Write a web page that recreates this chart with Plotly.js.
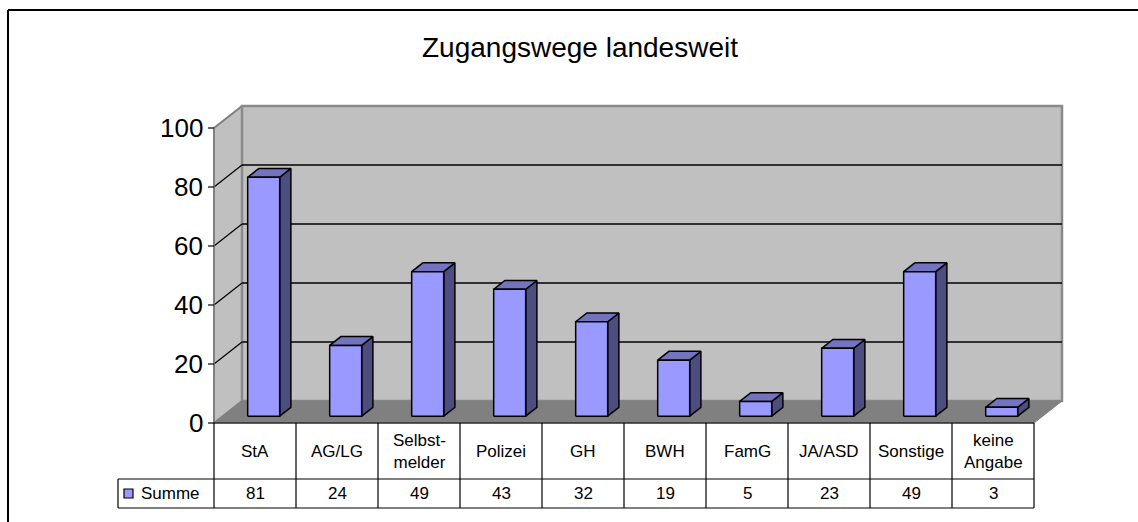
<!DOCTYPE html>
<html>
<head>
<meta charset="utf-8">
<script src="https://cdn.plot.ly/plotly-3.0.1.min.js"></script>
<style>html,body{margin:0;padding:0;background:#fff;overflow:hidden;}#chart{width:1138px;height:522px;}</style>
</head>
<body>
<div id="chart"></div>
<script>
// ---- data ----
const categories = ['StA', 'AG/LG', 'Selbst-<br>melder', 'Polizei', 'GH', 'BWH', 'FamG', 'JA/ASD', 'Sonstige', 'keine<br>Angabe'];
const values = [81, 24, 49, 43, 32, 19, 5, 23, 49, 3];
const seriesName = 'Summe';
const tickVals = [0, 20, 40, 60, 80, 100];
const titleText = 'Zugangswege landesweit';

// ---- layout geometry (pixel scale of the data space) ----
const W = 1138, H = 522;
const X0PX = 214, CATPX = 82;      // x=0 at 214px, one category = 82px
const Y0PX = 423, UNITPX = 2.95;   // y=0 at 423px, one unit = 2.95px
const DX = 28 / CATPX, DY = 22 / UNITPX;   // depth vector of the 3D box
const YMAX = 100;
const N = categories.length;
const barW = 32 / CATPX;
const f0 = 0.31, f1 = 0.71;       // bar depth (front/back fraction)
const px2x = p => p / CATPX, px2y = p => p / UNITPX;

const FONT = 'Liberation Sans, Arial, sans-serif';
const traces = [];
function poly(xs, ys, fill, lineColor, lineWidth) {
  traces.push({
    type: 'scatter', mode: 'lines', x: xs.concat([xs[0]]), y: ys.concat([ys[0]]),
    fill: fill ? 'toself' : 'none', fillcolor: fill || undefined,
    line: {color: lineColor, width: lineWidth}, hoverinfo: 'skip', showlegend: false
  });
}
function seg(xs, ys, color, width) {
  traces.push({type: 'scatter', mode: 'lines', x: xs, y: ys, line: {color: color, width: width},
    hoverinfo: 'skip', showlegend: false});
}

// walls and floor
poly([0, DX, DX, 0], [0, DY, YMAX + DY, YMAX], '#c0c0c0', '#808080', 2);
poly([DX, N + DX, N + DX, DX], [DY, DY, YMAX + DY, YMAX + DY], '#c0c0c0', '#8a8a8a', 2.5);
poly([0, N, N + DX, DX], [0, 0, DY, DY], '#808080', '#808080', 1);
// gridlines
tickVals.forEach(v => {
  if (v === 0 || v === YMAX) return;
  seg([DX, N + DX], [v + DY, v + DY], '#000', 1.3);
  seg([0, DX], [v, v + DY], '#000', 1.2);
});
// y-axis line and ticks
seg([0, 0], [0, YMAX], '#808080', 1.5);
tickVals.forEach(v => seg([-px2x(6), 0], [v, v], '#000', 1.2));

// bars
const cFront = '#9999ff', cTop = '#7373bf', cSide = '#4d4d80';
values.forEach((v, i) => {
  const x0 = i + 0.5 - barW / 2 + f0 * DX, x1 = x0 + barW;
  const yb = f0 * DY, yt = v + f0 * DY;
  const ddx = (f1 - f0) * DX, ddy = (f1 - f0) * DY;
  poly([x1, x1 + ddx, x1 + ddx, x1], [yb, yb + ddy, yt + ddy, yt], cSide, '#000', 1.5);
  poly([x0, x1, x1 + ddx, x0 + ddx], [yt, yt, yt + ddy, yt + ddy], cTop, '#000', 1.5);
  poly([x0, x1, x1, x0], [yb, yb, yt, yt], cFront, '#000', 1.5);
});

// data table
const rowH1 = px2y(56), rowH2 = px2y(29);
const legL = -px2x(96);
seg([0, N], [0, 0], '#000', 1.2);
seg([legL, N], [-rowH1, -rowH1], '#000', 1.2);
seg([legL, N], [-rowH1 - rowH2, -rowH1 - rowH2], '#000', 1.2);
for (let i = 0; i <= N; i++) seg([i, i], [0, -rowH1 - rowH2], '#000', 1.2);
seg([legL, legL], [-rowH1, -rowH1 - rowH2], '#000', 1.2);
// legend key
traces.push({type: 'scatter', mode: 'markers', x: [legL + px2x(10.5)], y: [-rowH1 - rowH2 / 2],
  marker: {symbol: 'square', size: 9, color: cFront, line: {color: '#000', width: 1.2}},
  hoverinfo: 'skip', showlegend: false});

const annotations = [];
tickVals.forEach(v => annotations.push({x: 0, y: v, xref: 'x', yref: 'y', text: String(v),
  showarrow: false, xanchor: 'right', yanchor: 'middle', xshift: -9, font: {family: FONT, size: 26, color: '#000'}}));
categories.forEach((c, i) => {
  annotations.push({x: i + 0.5, y: -rowH1 / 2, xref: 'x', yref: 'y', text: c, showarrow: false,
    xanchor: 'center', yanchor: 'middle', font: {family: FONT, size: 17, color: '#000'}});
  annotations.push({x: i + 0.5, y: -rowH1 - rowH2 / 2, xref: 'x', yref: 'y', text: String(values[i]), showarrow: false,
    xanchor: 'center', yanchor: 'middle', font: {family: FONT, size: 17, color: '#000'}});
});
annotations.push({x: legL + px2x(21), y: -rowH1 - rowH2 / 2, xref: 'x', yref: 'y', text: seriesName, showarrow: false,
  xanchor: 'left', yanchor: 'middle', font: {family: FONT, size: 17, color: '#000'}});

const layout = {
  width: W, height: H, autosize: false,
  margin: {l: 0, r: 0, t: 0, b: 0, pad: 0},
  paper_bgcolor: '#fff', plot_bgcolor: '#fff',
  showlegend: false,
  title: {text: titleText, x: 580 / W, xanchor: 'center', y: 1 - 47 / H, yanchor: 'middle', yref: 'container',
    font: {family: FONT, size: 28, color: '#000'}},
  xaxis: {visible: false, range: [-X0PX / CATPX, (W - X0PX) / CATPX], fixedrange: true},
  yaxis: {visible: false, range: [(Y0PX - H) / UNITPX, Y0PX / UNITPX], fixedrange: true},
  annotations: annotations,
  shapes: [
    {type: 'line', xref: 'paper', yref: 'paper', x0: 8 / W, x1: 8 / W, y0: 0, y1: 1 - 10 / H, line: {color: '#000', width: 2}},
    {type: 'line', xref: 'paper', yref: 'paper', x0: 8 / W, x1: 1, y0: 1 - 10 / H, y1: 1 - 10 / H, line: {color: '#000', width: 2}}
  ]
};

Plotly.newPlot('chart', traces, layout, {staticPlot: true, displayModeBar: false});
</script>
</body>
</html>
